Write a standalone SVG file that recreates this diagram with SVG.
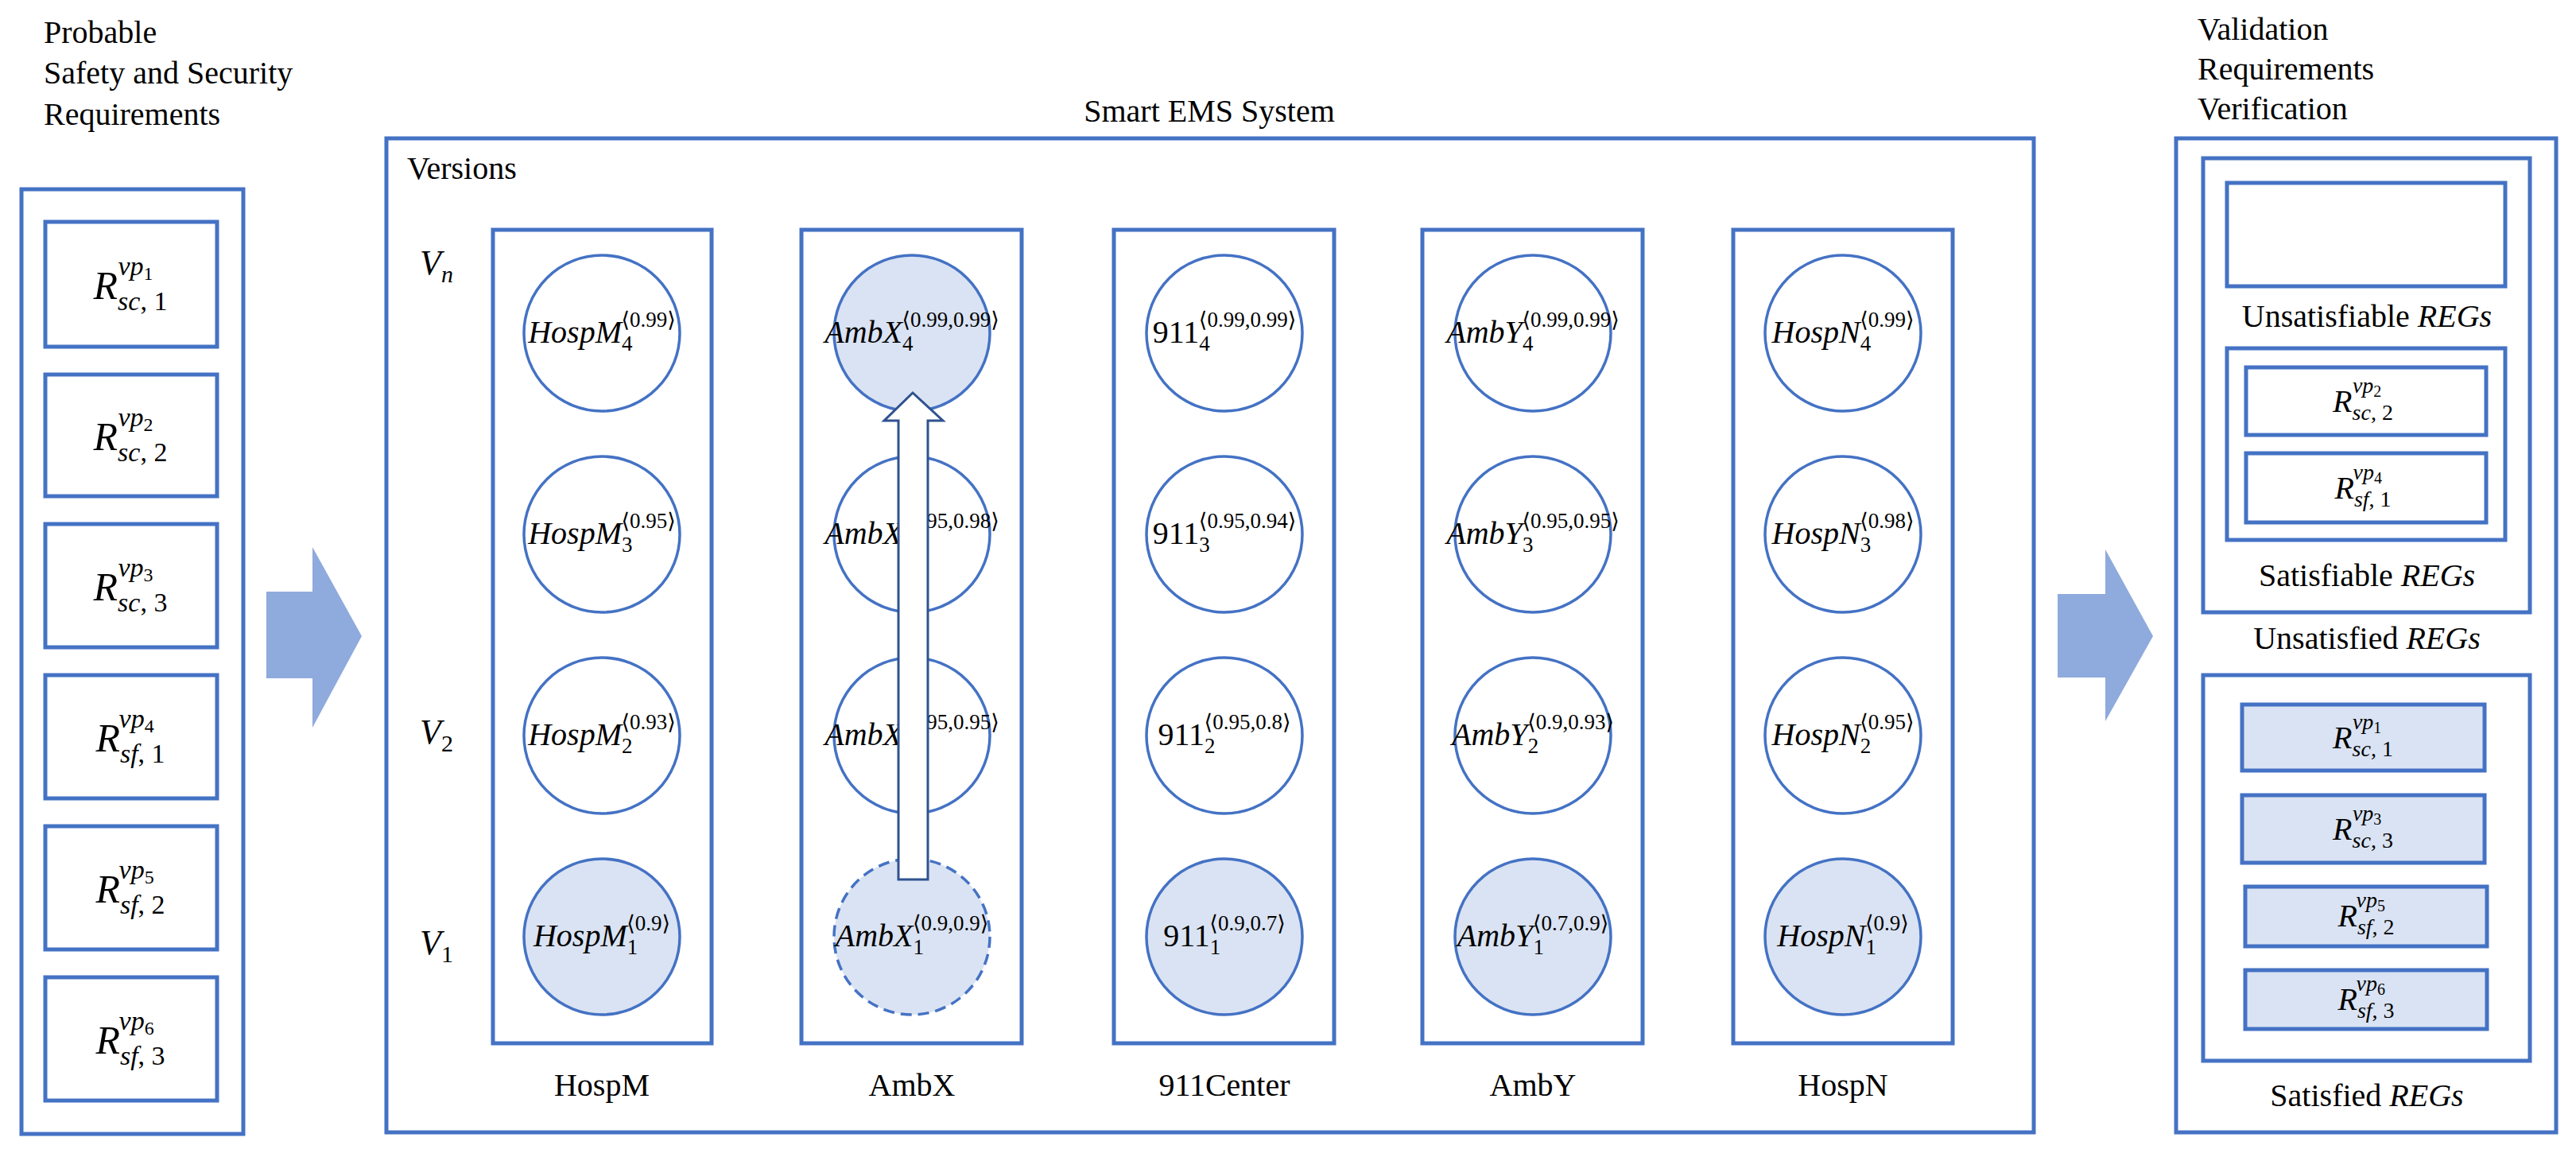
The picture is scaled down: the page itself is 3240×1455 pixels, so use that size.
<svg xmlns="http://www.w3.org/2000/svg" width="3240" height="1455" viewBox="0 0 3240 1455">
<style>
.b{fill:none;stroke:#4472C4;stroke-width:5}
.bf{fill:#DAE3F3;stroke:#4472C4;stroke-width:5}
.c{fill:#fff;stroke:#4472C4;stroke-width:3.5}
.cf{fill:#DAE3F3;stroke:#4472C4;stroke-width:3.5}
text{font-family:"Liberation Serif","DejaVu Serif",serif;fill:#000}
.t{font-size:40px}
.m{font-size:40px;text-anchor:middle}
.i{font-style:italic}
.s{font-size:27px}
.ar{fill:#8FAADC}
</style>
<rect width="3240" height="1455" fill="#fff"/>
<g id="left-title"><text class="t" x="55" y="54">Probable</text><text class="t" x="55" y="105">Safety and Security</text><text class="t" x="55" y="157">Requirements</text></g>
<g id="left-panel">
<rect class="b" x="27" y="238" width="279" height="1188"/>
<rect class="b" x="57" y="279" width="216" height="157"/>
<rect class="b" x="57" y="471" width="216" height="153"/>
<rect class="b" x="57" y="659" width="216" height="155"/>
<rect class="b" x="57" y="849" width="216" height="155"/>
<rect class="b" x="57" y="1039" width="216" height="155"/>
<rect class="b" x="57" y="1229" width="216" height="155"/>
<g font-size="50" text-anchor="middle">
<text x="164" y="376"><tspan class="i">R</tspan><tspan dy="14" font-size="34"><tspan class="i">sc</tspan>, 1</tspan><tspan dx="-62" dy="-44" font-size="34" class="i">vp</tspan><tspan dy="6" font-size="24">1</tspan></text>
<text x="164" y="566"><tspan class="i">R</tspan><tspan dy="14" font-size="34"><tspan class="i">sc</tspan>, 2</tspan><tspan dx="-62" dy="-44" font-size="34" class="i">vp</tspan><tspan dy="6" font-size="24">2</tspan></text>
<text x="164" y="755"><tspan class="i">R</tspan><tspan dy="14" font-size="34"><tspan class="i">sc</tspan>, 3</tspan><tspan dx="-62" dy="-44" font-size="34" class="i">vp</tspan><tspan dy="6" font-size="24">3</tspan></text>
<text x="164" y="945"><tspan class="i">R</tspan><tspan dy="14" font-size="34"><tspan class="i">sf</tspan>, 1</tspan><tspan dx="-58" dy="-44" font-size="34" class="i">vp</tspan><tspan dy="6" font-size="24">4</tspan></text>
<text x="164" y="1135"><tspan class="i">R</tspan><tspan dy="14" font-size="34"><tspan class="i">sf</tspan>, 2</tspan><tspan dx="-58" dy="-44" font-size="34" class="i">vp</tspan><tspan dy="6" font-size="24">5</tspan></text>
<text x="164" y="1325"><tspan class="i">R</tspan><tspan dy="14" font-size="34"><tspan class="i">sf</tspan>, 3</tspan><tspan dx="-58" dy="-44" font-size="34" class="i">vp</tspan><tspan dy="6" font-size="24">6</tspan></text>
</g>
</g>
<g id="connectors">
<polygon class="ar" points="335,744 393,744 393,688 455,800 393,915 393,853 335,853"/>
<polygon class="ar" points="2588,747 2648,747 2648,691 2708,800 2648,907 2648,852 2588,852"/>
</g>
<g id="ems">
<text class="m" x="1521" y="153">Smart EMS System</text>
<rect class="b" x="486" y="174" width="2072" height="1250"/>
<text class="t" x="512" y="225">Versions</text>
<g class="i" font-size="44"><text x="528" y="345">V<tspan dy="10" font-size="30">n</tspan></text><text x="528" y="935">V<tspan dy="10" font-size="30" font-style="normal">2</tspan></text><text x="528" y="1200">V<tspan dy="10" font-size="30" font-style="normal">1</tspan></text></g>
</g>
<g id="col-HospM">
<rect class="b" x="620" y="289" width="275" height="1023"/>
<circle class="c" cx="757" cy="419" r="98"/><circle class="c" cx="757" cy="672" r="98"/><circle class="c" cx="757" cy="925" r="98"/><circle class="cf" cx="757" cy="1178" r="98"/>
<g class="m"><text x="757" y="431"><tspan class="i">HospM</tspan><tspan class="s" dy="10">4</tspan><tspan class="s" dx="-14" dy="-30">⟨0.99⟩</tspan></text>
<text x="757" y="684"><tspan class="i">HospM</tspan><tspan class="s" dy="10">3</tspan><tspan class="s" dx="-14" dy="-30">⟨0.95⟩</tspan></text>
<text x="757" y="937"><tspan class="i">HospM</tspan><tspan class="s" dy="10">2</tspan><tspan class="s" dx="-14" dy="-30">⟨0.93⟩</tspan></text>
<text x="757" y="1190"><tspan class="i">HospM</tspan><tspan class="s" dy="10">1</tspan><tspan class="s" dx="-14" dy="-30">⟨0.9⟩</tspan></text></g>
<text class="m" x="757" y="1378" font-size="36">HospM</text>
</g>
<g id="col-AmbX">
<rect class="b" x="1008" y="289" width="277" height="1023"/>
<circle class="cf" cx="1147" cy="419" r="98"/><circle class="c" cx="1147" cy="672" r="98"/><circle class="c" cx="1147" cy="925" r="98"/><circle class="cf" cx="1147" cy="1178" r="98" stroke-dasharray="14,8"/>
<g class="m"><text x="1147" y="431"><tspan class="i">AmbX</tspan><tspan class="s" dy="10">4</tspan><tspan class="s" dx="-14" dy="-30">⟨0.99,0.99⟩</tspan></text>
<text x="1147" y="684"><tspan class="i">AmbX</tspan><tspan class="s" dy="10">3</tspan><tspan class="s" dx="-14" dy="-30">⟨0.95,0.98⟩</tspan></text>
<text x="1147" y="937"><tspan class="i">AmbX</tspan><tspan class="s" dy="10">2</tspan><tspan class="s" dx="-14" dy="-30">⟨0.95,0.95⟩</tspan></text>
<text x="1147" y="1190"><tspan class="i">AmbX</tspan><tspan class="s" dy="10">1</tspan><tspan class="s" dx="-14" dy="-30">⟨0.9,0.9⟩</tspan></text></g>
<polygon points="1130,1106 1167,1106 1167,529 1186,529 1148,494 1112,529 1130,529" fill="#fff" stroke="#2F528F" stroke-width="3"/>
<text class="m" x="1147" y="1378" font-size="36">AmbX</text>
</g>
<g id="col-911">
<rect class="b" x="1401" y="289" width="277" height="1023"/>
<circle class="c" cx="1540" cy="419" r="98"/><circle class="c" cx="1540" cy="672" r="98"/><circle class="c" cx="1540" cy="925" r="98"/><circle class="cf" cx="1540" cy="1178" r="98"/>
<g class="m"><text x="1540" y="431">911<tspan class="s" dy="10">4</tspan><tspan class="s" dx="-14" dy="-30">⟨0.99,0.99⟩</tspan></text>
<text x="1540" y="684">911<tspan class="s" dy="10">3</tspan><tspan class="s" dx="-14" dy="-30">⟨0.95,0.94⟩</tspan></text>
<text x="1540" y="937">911<tspan class="s" dy="10">2</tspan><tspan class="s" dx="-14" dy="-30">⟨0.95,0.8⟩</tspan></text>
<text x="1540" y="1190">911<tspan class="s" dy="10">1</tspan><tspan class="s" dx="-14" dy="-30">⟨0.9,0.7⟩</tspan></text></g>
<text class="m" x="1540" y="1378" font-size="36">911Center</text>
</g>
<g id="col-AmbY">
<rect class="b" x="1789" y="289" width="277" height="1023"/>
<circle class="c" cx="1928" cy="419" r="98"/><circle class="c" cx="1928" cy="672" r="98"/><circle class="c" cx="1928" cy="925" r="98"/><circle class="cf" cx="1928" cy="1178" r="98"/>
<g class="m"><text x="1928" y="431"><tspan class="i">AmbY</tspan><tspan class="s" dy="10">4</tspan><tspan class="s" dx="-14" dy="-30">⟨0.99,0.99⟩</tspan></text>
<text x="1928" y="684"><tspan class="i">AmbY</tspan><tspan class="s" dy="10">3</tspan><tspan class="s" dx="-14" dy="-30">⟨0.95,0.95⟩</tspan></text>
<text x="1928" y="937"><tspan class="i">AmbY</tspan><tspan class="s" dy="10">2</tspan><tspan class="s" dx="-14" dy="-30">⟨0.9,0.93⟩</tspan></text>
<text x="1928" y="1190"><tspan class="i">AmbY</tspan><tspan class="s" dy="10">1</tspan><tspan class="s" dx="-14" dy="-30">⟨0.7,0.9⟩</tspan></text></g>
<text class="m" x="1928" y="1378" font-size="36">AmbY</text>
</g>
<g id="col-HospN">
<rect class="b" x="2180" y="289" width="276" height="1023"/>
<circle class="c" cx="2318" cy="419" r="98"/><circle class="c" cx="2318" cy="672" r="98"/><circle class="c" cx="2318" cy="925" r="98"/><circle class="cf" cx="2318" cy="1178" r="98"/>
<g class="m"><text x="2318" y="431"><tspan class="i">HospN</tspan><tspan class="s" dy="10">4</tspan><tspan class="s" dx="-14" dy="-30">⟨0.99⟩</tspan></text>
<text x="2318" y="684"><tspan class="i">HospN</tspan><tspan class="s" dy="10">3</tspan><tspan class="s" dx="-14" dy="-30">⟨0.98⟩</tspan></text>
<text x="2318" y="937"><tspan class="i">HospN</tspan><tspan class="s" dy="10">2</tspan><tspan class="s" dx="-14" dy="-30">⟨0.95⟩</tspan></text>
<text x="2318" y="1190"><tspan class="i">HospN</tspan><tspan class="s" dy="10">1</tspan><tspan class="s" dx="-14" dy="-30">⟨0.9⟩</tspan></text></g>
<text class="m" x="2318" y="1378" font-size="36">HospN</text>
</g>
<g id="right-title"><text class="t" x="2764" y="50" font-size="36">Validation</text><text class="t" x="2764" y="100" font-size="36">Requirements</text><text class="t" x="2764" y="150" font-size="36">Verification</text></g>
<g id="right-panel">
<rect class="b" x="2737" y="174" width="478" height="1250"/>
<rect class="b" x="2771" y="199" width="411" height="571"/>
<rect class="b" x="2801" y="230" width="350" height="130"/>
<text class="m" x="2977" y="411" font-size="36">Unsatisfiable <tspan class="i">REGs</tspan></text>
<rect class="b" x="2801" y="438" width="350" height="241"/>
<rect class="b" x="2825" y="462" width="302" height="85"/>
<rect class="b" x="2825" y="570" width="302" height="87"/>
<text class="m" x="2977" y="737" font-size="36">Satisfiable <tspan class="i">REGs</tspan></text>
<text class="m" x="2977" y="816" font-size="36">Unsatisfied <tspan class="i">REGs</tspan></text>
<rect class="b" x="2771" y="849" width="411" height="485"/>
<rect class="bf" x="2820" y="886" width="305" height="83"/>
<rect class="bf" x="2820" y="1000" width="305" height="85"/>
<rect class="bf" x="2824" y="1115" width="304" height="75"/>
<rect class="bf" x="2824" y="1220" width="304" height="74"/>
<text class="m" x="2977" y="1391" font-size="36">Satisfied <tspan class="i">REGs</tspan></text>
<g font-size="40" text-anchor="middle">
<text x="2972" y="518"><tspan class="i">R</tspan><tspan dy="10" font-size="28"><tspan class="i">sc</tspan>, 2</tspan><tspan dx="-51" dy="-34" font-size="28" class="i">vp</tspan><tspan dy="5" font-size="20">2</tspan></text>
<text x="2972" y="627"><tspan class="i">R</tspan><tspan dy="10" font-size="28"><tspan class="i">sf</tspan>, 1</tspan><tspan dx="-48" dy="-34" font-size="28" class="i">vp</tspan><tspan dy="5" font-size="20">4</tspan></text>
<text x="2972" y="941"><tspan class="i">R</tspan><tspan dy="10" font-size="28"><tspan class="i">sc</tspan>, 1</tspan><tspan dx="-51" dy="-34" font-size="28" class="i">vp</tspan><tspan dy="5" font-size="20">1</tspan></text>
<text x="2972" y="1056"><tspan class="i">R</tspan><tspan dy="10" font-size="28"><tspan class="i">sc</tspan>, 3</tspan><tspan dx="-51" dy="-34" font-size="28" class="i">vp</tspan><tspan dy="5" font-size="20">3</tspan></text>
<text x="2976" y="1165"><tspan class="i">R</tspan><tspan dy="10" font-size="28"><tspan class="i">sf</tspan>, 2</tspan><tspan dx="-48" dy="-34" font-size="28" class="i">vp</tspan><tspan dy="5" font-size="20">5</tspan></text>
<text x="2976" y="1270"><tspan class="i">R</tspan><tspan dy="10" font-size="28"><tspan class="i">sf</tspan>, 3</tspan><tspan dx="-48" dy="-34" font-size="28" class="i">vp</tspan><tspan dy="5" font-size="20">6</tspan></text>
</g>
</g>
</svg>
